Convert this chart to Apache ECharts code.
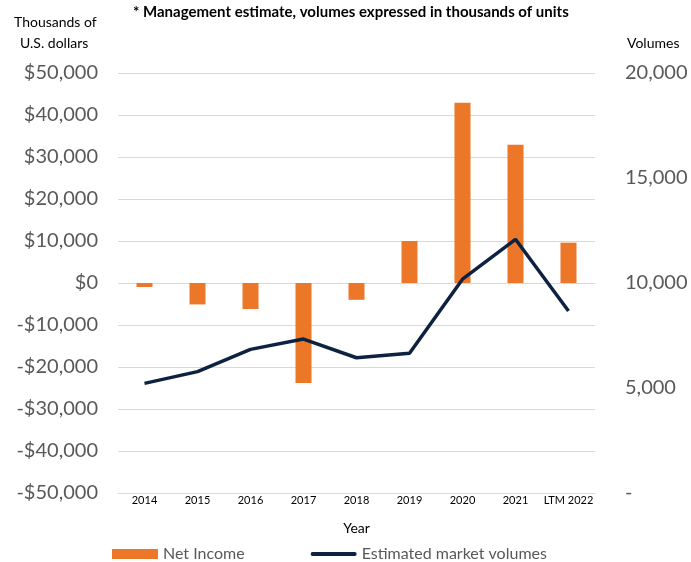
<!DOCTYPE html>
<html>
<head>
<meta charset="utf-8">
<script src="https://cdn.jsdelivr.net/npm/echarts@6/dist/echarts.min.js"></script>
<style>
  html, body { margin: 0; padding: 0; background: #fff; }
  #chart { width: 691px; height: 562px; }
</style>
</head>
<body>
<div id="chart"></div>
<script>
  // data
  const years = ['2014', '2015', '2016', '2017', '2018', '2019', '2020', '2021', 'LTM 2022'];
  const netIncome = [-950, -5100, -6200, -23800, -4000, 10000, 42900, 32900, 9600];
  const volumes = [5220, 5780, 6840, 7330, 6440, 6650, 10180, 12080, 8670];

  const font = 'Lato, "Open Sans", sans-serif';
  const gray = '#595959';

  function money(v) {
    if (v === 0) return '$0';
    const s = '$' + Math.abs(v).toLocaleString('en-US');
    return v < 0 ? '-' + s : s;
  }

  const chart = echarts.init(document.getElementById('chart'));
  chart.setOption({
    animation: false,
    textStyle: { fontFamily: font },
    grid: { left: 118, right: 96, top: 73, bottom: 69 },
    graphic: [
      { type: 'text', x: 133, y: 5, style: { text: '* Management estimate, volumes expressed in thousands of units', font: 'bold 15px ' + font, fill: '#000' } },
      { type: 'text', left: 14, top: 15, style: { text: 'Thousands of', font: '14px ' + font, fill: '#000' } },
      { type: 'text', left: 20, top: 36, style: { text: 'U.S. dollars', font: '14px ' + font, fill: '#000' } },
      { type: 'text', left: 627, top: 36, style: { text: 'Volumes', font: '14px ' + font, fill: '#000' } }
    ],
    legend: {
      left: 112, top: 546, padding: 0,
      itemWidth: 46, itemHeight: 10, itemGap: 66,
      textStyle: { color: gray, fontSize: 16, fontFamily: font },
      data: [
        { name: 'Net Income', icon: 'rect' },
        { name: 'Estimated market volumes', icon: 'path://M2,0 L46,0 A2,2 0 0 1 46,4 L2,4 A2,2 0 0 1 2,0 Z' }
      ]
    },
    xAxis: {
      type: 'category',
      data: years,
      name: 'Year',
      nameLocation: 'middle',
      nameGap: 28,
      nameTextStyle: { color: '#000', fontSize: 14 },
      axisLine: { onZero: false, lineStyle: { color: '#d9d9d9' } },
      axisTick: { show: false },
      axisLabel: { color: '#000', fontSize: 11, margin: 2, interval: 0 }
    },
    yAxis: [
      {
        type: 'value', min: -50000, max: 50000, interval: 10000,
        axisLabel: { color: gray, fontSize: 20, formatter: money, margin: 20 },
        splitLine: { lineStyle: { color: '#d9d9d9', width: 1 } }
      },
      {
        type: 'value', min: 0, max: 20000, interval: 5000,
        axisLabel: { color: gray, fontSize: 20, margin: 30, formatter: v => v === 0 ? '-' : v.toLocaleString('en-US') },
        splitLine: { show: false }
      }
    ],
    series: [
      {
        name: 'Net Income', type: 'bar', data: netIncome, barWidth: 16,
        itemStyle: { color: '#ED7728' }
      },
      {
        name: 'Estimated market volumes', type: 'line', yAxisIndex: 1, data: volumes,
        symbol: 'none',
        lineStyle: { color: '#0d2240', width: 3.5 },
        itemStyle: { color: '#0d2240' }
      }
    ]
  });
</script>
</body>
</html>
